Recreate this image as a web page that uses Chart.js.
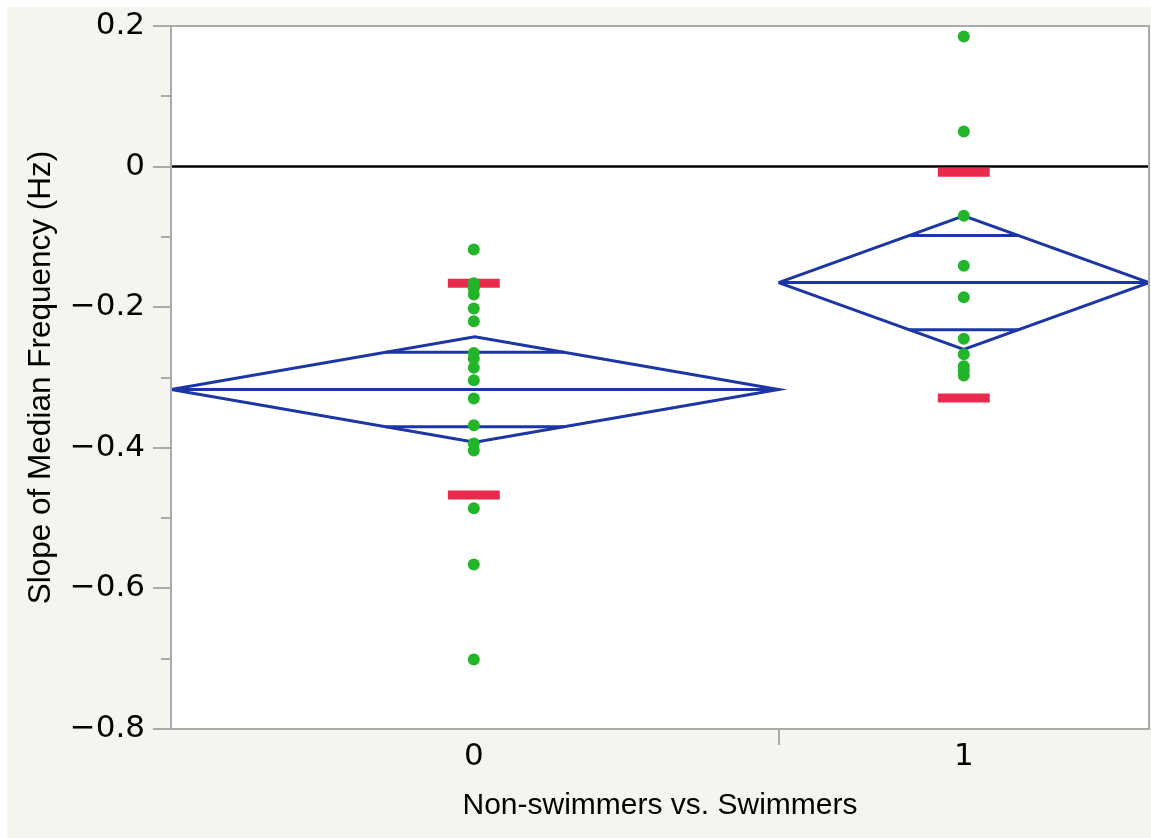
<!DOCTYPE html>
<html>
<head>
<meta charset="utf-8">
<script src="https://cdn.jsdelivr.net/npm/chart.js@4.4.0/dist/chart.umd.min.js"></script>
<style>
  html, body { margin: 0; padding: 0; background: #fff; }
  #wrap { position: absolute; left: 7px; top: 7px; width: 1144px; height: 831px; background: #f5f5f0; }
</style>
</head>
<body>
<div id="wrap"><canvas id="myChart" width="1144" height="831"></canvas></div>
<script>
// groups on the x axis, edges of each group's slot (width ~ sample size)
const groups = [0, 1];
const groupEdges = [-0.618, 0.622, 1.378];

// means diamonds
const groupMeans = [-0.317, -0.165];
const diamondTop = [-0.242, -0.070];
const diamondBottom = [-0.392, -0.260];
const overlapHigh = [-0.264, -0.098];
const overlapLow = [-0.370, -0.232];

// red marks
const redMarks0 = [-0.166, -0.467];
const redMarks1 = [-0.008, -0.329];

// observations
const points0 = [-0.118, -0.166, -0.173, -0.182, -0.202, -0.220, -0.265, -0.273, -0.286,
  -0.304, -0.330, -0.368, -0.394, -0.404, -0.486, -0.566, -0.701];
const points1 = [0.185, 0.050, -0.070, -0.141, -0.186, -0.245, -0.267, -0.284, -0.290, -0.297];

const BLUE = '#1c36a6';
const GREEN = '#22b52a';
const RED = '#ea2a4c';
const GRAY = '#aaaaaa';

const lineSet = (pts, color, width, order) => ({
  data: pts,
  showLine: true,
  borderColor: color,
  borderWidth: width,
  pointRadius: 0,
  fill: false,
  tension: 0,
  borderCapStyle: 'butt',
  order: order,
});

const datasets = [];

// zero reference line
datasets.push(lineSet([{x: groupEdges[0], y: 0}, {x: groupEdges[2], y: 0}], '#000', 2.5, 5));

groups.forEach((g, i) => {
  const l = groupEdges[i], r = groupEdges[i + 1], c = (l + r) / 2, m = groupMeans[i];
  datasets.push(lineSet([
    {x: l, y: m}, {x: c, y: diamondTop[i]}, {x: r, y: m}, {x: c, y: diamondBottom[i]}, {x: l, y: m}
  ], BLUE, 3, 3));
  datasets.push(lineSet([{x: l, y: m}, {x: r, y: m}], BLUE, 3, 3));
  const half = (r - l) / 2;
  const wHi = half * (1 - (overlapHigh[i] - m) / (diamondTop[i] - m));
  const wLo = half * (1 - (m - overlapLow[i]) / (m - diamondBottom[i]));
  datasets.push(lineSet([{x: c - wHi, y: overlapHigh[i]}, {x: c + wHi, y: overlapHigh[i]}], BLUE, 3, 3));
  datasets.push(lineSet([{x: c - wLo, y: overlapLow[i]}, {x: c + wLo, y: overlapLow[i]}], BLUE, 3, 3));
});

[redMarks0, redMarks1].forEach((marks, i) => {
  marks.forEach(v => {
    datasets.push(lineSet([{x: groups[i] - 0.053, y: v}, {x: groups[i] + 0.053, y: v}], RED, 9, 1));
  });
});

[points0, points1].forEach((pts, i) => {
  datasets.push({
    data: pts.map(v => ({x: groups[i], y: v})),
    showLine: false,
    pointRadius: 6,
    pointBackgroundColor: GREEN,
    pointBorderWidth: 0,
    order: 0,
  });
});

const frame = {
  id: 'frame',
  beforeDraw(chart) {
    const {ctx, chartArea: a} = chart;
    ctx.save();
    ctx.fillStyle = '#ffffff';
    ctx.fillRect(a.left, a.top, a.right - a.left, a.bottom - a.top);
    ctx.restore();
  },
  afterDraw(chart) {
    const {ctx, chartArea: a} = chart;
    const y = chart.scales.y, x = chart.scales.x;
    ctx.save();
    ctx.strokeStyle = GRAY;
    ctx.lineWidth = 2;
    ctx.strokeRect(a.left, a.top, a.right - a.left, a.bottom - a.top);
    ctx.beginPath();
    y.ticks.forEach(t => {
      const py = Math.round(y.getPixelForValue(t.value));
      const len = Math.round(t.value * 10) % 2 === 0 ? 18 : 10;
      ctx.moveTo(a.left - len, py);
      ctx.lineTo(a.left, py);
    });
    const px = Math.round(x.getPixelForValue(groupEdges[1]));
    ctx.moveTo(px, a.bottom);
    ctx.lineTo(px, a.bottom + 16);
    ctx.stroke();
    ctx.restore();
  }
};

Chart.defaults.color = '#000';
const ctx = document.getElementById('myChart').getContext('2d');
const chart = new Chart(ctx, {
  type: 'scatter',
  data: {datasets: datasets},
  plugins: [frame],
  options: {
    responsive: false,
    animation: false,
    events: [],
    layout: {autoPadding: false, padding: {left: 0, top: 19, right: 2, bottom: 0}},
    plugins: {legend: {display: false}, tooltip: {enabled: false}},
    scales: {
      x: {
        type: 'linear',
        min: groupEdges[0],
        max: groupEdges[2],
        afterBuildTicks: s => { s.ticks = groups.map(g => ({value: g})); },
        afterFit: s => { s.height = 109; s.paddingLeft = 0; s.paddingRight = 0; },
        grid: {display: false},
        border: {display: false},
        ticks: {
          padding: 1,
          font: {family: 'DejaVu Sans', size: 31},
          callback: v => String(v),
        },
        title: {
          display: true,
          text: 'Non-swimmers vs. Swimmers',
          font: {family: 'Liberation Sans', size: 30},
          padding: {top: 0, bottom: 14},
        },
      },
      y: {
        min: -0.8,
        max: 0.2,
        afterFit: s => { s.width = 164; s.paddingTop = 0; s.paddingBottom = 0; },
        grid: {display: false},
        border: {display: false},
        ticks: {
          stepSize: 0.1,
          padding: 18,
          font: {family: 'DejaVu Sans', size: 31},
          callback: v => {
            const k = Math.round(v * 10);
            if (k % 2 !== 0) return '';
            if (k === 0) return '0';
            return (k < 0 ? '\u2212' : '') + (Math.abs(k) / 10).toFixed(1);
          },
        },
        title: {
          display: true,
          text: 'Slope of Median Frequency (Hz)',
          font: {family: 'Liberation Sans', size: 31.5},
          padding: {top: 15, bottom: 0},
        },
      },
    },
  },
});
</script>
</body>
</html>
